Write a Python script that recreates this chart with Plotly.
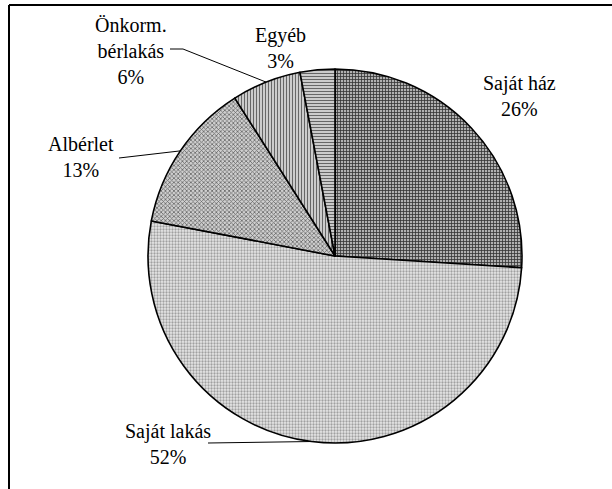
import math
import plotly.graph_objects as go

# Data
categories = ["Saját ház", "Saját lakás", "Albérlet", "Önkorm.<br>bérlakás", "Egyéb"]
values = [26, 52, 13, 6, 3]

W, H = 612, 489
cx, cy, r = 335, 256, 187   # pie centre / radius in window px

pattern_shapes = ["+", ".", "x", "|", "-"]
fg = ["#333333", "#a0a0a0", "#666666", "#666666", "#666666"]
bg = ["#b0b0b0", "#e8e8e8", "#cfcfcf", "#e0e0e0", "#e0e0e0"]


def px2paper(x, y):
    return x / W, 1 - y / H


dx0, dy0 = px2paper(cx - r, cy + r)
dx1, dy1 = px2paper(cx + r, cy - r)

fig = go.Figure(go.Pie(
    labels=categories,
    values=values,
    sort=False,
    direction="clockwise",
    rotation=0,
    textinfo="none",
    hoverinfo="label+percent",
    showlegend=False,
    marker=dict(
        colors=bg,
        line=dict(color="black", width=1.6),
        pattern=dict(shape=pattern_shapes, fgcolor=fg, bgcolor=bg,
                     size=3, solidity=0.45, fillmode="replace"),
    ),
    domain=dict(x=[dx0, dx1], y=[dy0, dy1]),
))

# label positions (window px, centre of text block)
label_pos = [(519, 96), (168, 444), (81, 157), (131, 51), (280, 48)]
# leader line path points on the label side (None = no leader)
leader_pts = [None, [(208, 443)], [(119, 158)], [(170, 49), (183, 49)], None]

total = sum(values)
cum = 0
annotations = []
shapes = []
for i, (lab, v) in enumerate(zip(categories, values)):
    mid = (cum + v / 2) / total * 360
    cum += v
    pct = round(v / total * 100)
    lx, ly = px2paper(*label_pos[i])
    annotations.append(dict(
        x=lx, y=ly, xref="paper", yref="paper", showarrow=False,
        xanchor="center", yanchor="middle",
        text=f"{lab}<br>{pct}%", align="center",
        font=dict(family="Liberation Serif", size=20, color="black"),
    ))
    if leader_pts[i] is not None:
        ex = cx + r * math.sin(math.radians(mid))
        ey = cy - r * math.cos(math.radians(mid))
        pts = leader_pts[i] + [(ex, ey)]
        for (ax_, ay_), (bx_, by_) in zip(pts[:-1], pts[1:]):
            x0, y0 = px2paper(ax_, ay_)
            x1, y1 = px2paper(bx_, by_)
            shapes.append(dict(type="line", xref="paper", yref="paper",
                               x0=x0, y0=y0, x1=x1, y1=y1,
                               line=dict(color="black", width=1)))

# frame (left and top edges)
fx, fy = px2paper(9, 5)
shapes.append(dict(type="line", xref="paper", yref="paper",
                   x0=fx, y0=-0.05, x1=fx, y1=fy,
                   line=dict(color="black", width=2)))
shapes.append(dict(type="line", xref="paper", yref="paper",
                   x0=fx, y0=fy, x1=1.05, y1=fy,
                   line=dict(color="black", width=2)))

fig.update_layout(
    width=W, height=H,
    margin=dict(l=0, r=0, t=0, b=0),
    paper_bgcolor="white", plot_bgcolor="white",
    annotations=annotations, shapes=shapes,
)

fig.write_html(
    "out.html",
    config={"displayModeBar": False},
    post_script="document.body.style.margin='0px';document.body.style.overflow='hidden';",
)
